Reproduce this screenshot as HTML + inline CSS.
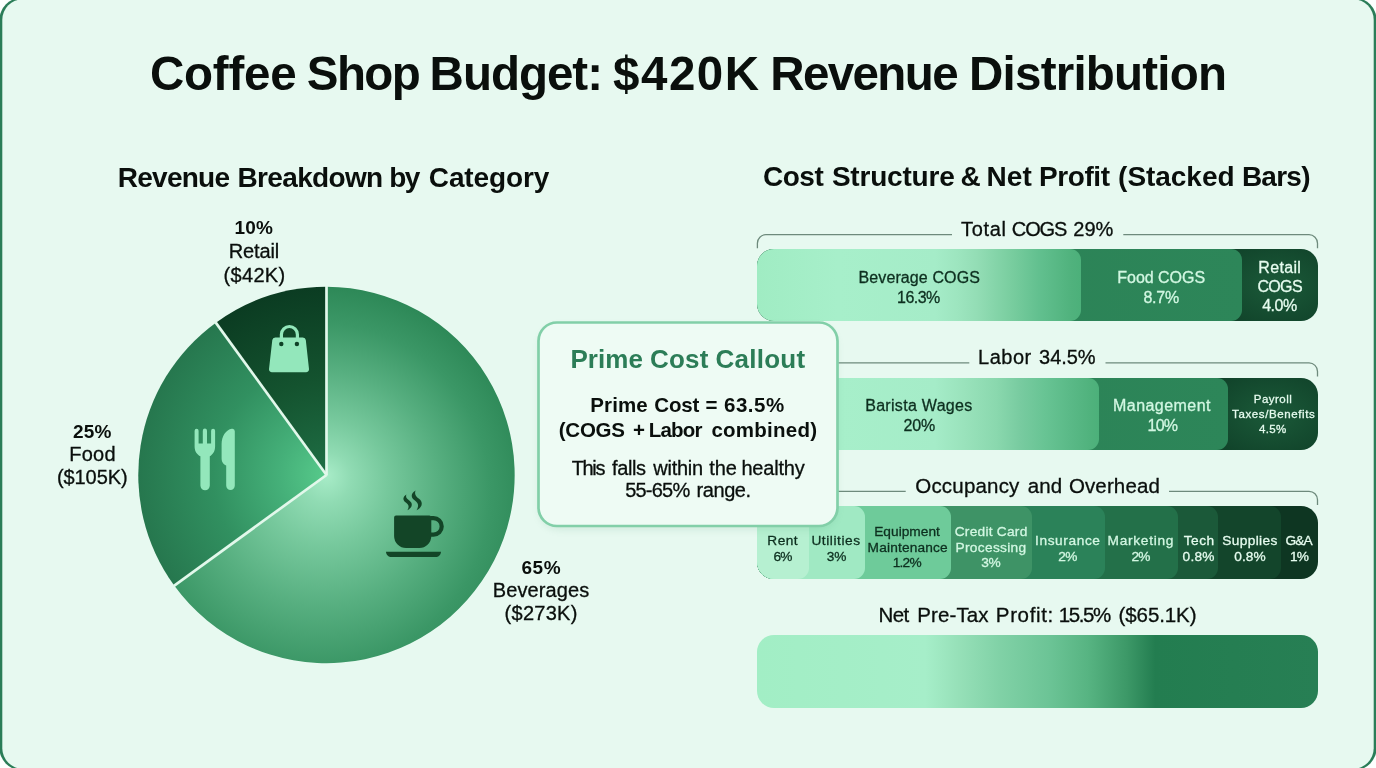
<!DOCTYPE html>
<html lang="en">
<head>
<meta charset="utf-8">
<title>Coffee Shop Budget: $420K Revenue Distribution</title>
<style>
*{box-sizing:border-box;margin:0;padding:0}
html,body{width:1376px;height:768px;overflow:hidden;background:#fdfffe}
body{font-family:"Liberation Sans",sans-serif;color:#0a0f0c;position:relative}
.t{position:absolute;white-space:nowrap;line-height:1}
.b{font-weight:bold}
.t:not(.b){-webkit-text-stroke:.3px currentColor}
.bar{position:absolute;left:757px;width:561px;height:73px;border-radius:17px;overflow:hidden}
.seg{position:absolute;top:0;height:100%;border-radius:0 11px 11px 0}
.d{color:#0d2f1f}
.m{color:#d2f7e2}
.w{color:#e6fcef}
</style>
</head>
<body>
<svg id="frame" style="position:absolute;left:0;top:0" width="1376" height="768" viewBox="0 0 1376 768"><rect x="-0.5" y="-2.2" width="1377" height="772.4" rx="22" fill="#2b7d58"/><rect x="2.3" y="-0.7" width="1371.4" height="769.4" rx="20.5" fill="#e7f9f0"/></svg>


<!-- PIE -->
<svg id="pie" style="position:absolute;left:0;top:0" width="700" height="768" viewBox="0 0 700 768">
  <defs>
    <radialGradient id="gBev" gradientUnits="userSpaceOnUse" cx="317" cy="499" r="214" fx="326.5" fy="475">
      <stop offset="0" stop-color="#a8ecc8"/><stop offset="0.12" stop-color="#90dbb3"/><stop offset="0.3" stop-color="#76c89c"/><stop offset="0.55" stop-color="#57af80"/><stop offset="0.8" stop-color="#3b9766"/><stop offset="1" stop-color="#2d8857"/>
    </radialGradient>
    <radialGradient id="gFood" gradientUnits="userSpaceOnUse" cx="326.5" cy="475.0" r="188.2">
      <stop offset="0" stop-color="#57ca8b"/><stop offset="0.25" stop-color="#45b079"/><stop offset="0.6" stop-color="#319060"/><stop offset="1" stop-color="#26774e"/>
    </radialGradient>
    <radialGradient id="gRet" gradientUnits="userSpaceOnUse" cx="326.5" cy="475.0" r="188.2">
      <stop offset="0" stop-color="#1f6f45"/><stop offset="0.5" stop-color="#14532f"/><stop offset="1" stop-color="#0b3c22"/>
    </radialGradient>
  </defs>
  <g id="slices">
    <path d="M326.5 475.0L326.5 286.8A188.2 188.2 0 1 1 174.2 585.6Z" fill="url(#gBev)"/>
    <path d="M326.5 475.0L174.2 585.6A188.2 188.2 0 0 1 215.9 322.7Z" fill="url(#gFood)"/>
    <path d="M326.5 475.0L215.9 322.7A188.2 188.2 0 0 1 326.5 286.8Z" fill="url(#gRet)"/>
    <g stroke="#e2f8eb" stroke-width="2.700" stroke-linecap="butt" fill="none">
      <line x1="326.5" y1="475.5" x2="326.5" y2="286.0"/>
      <line x1="326.5" y1="475.0" x2="173.6" y2="586.1"/>
      <line x1="326.5" y1="475.0" x2="215.4" y2="322.1"/>
    </g>
  </g>
  <!-- bag icon -->
  <g id="bag">
    <path d="M281.4 338V334.5a8 8 0 0 1 16 0V338" fill="none" stroke="#93e7bb" stroke-width="3.2"/>
    <path d="M275.3 337.5H302.8a3 3 0 0 1 3 2.6L309 368.9a3 3 0 0 1-3 3.4H272a3 3 0 0 1-3-3.4L272.3 340.1a3 3 0 0 1 3-2.6Z" fill="#93e7bb"/>
    <circle cx="281.3" cy="344" r="2.2" fill="#0e4126"/><circle cx="296.9" cy="344" r="2.2" fill="#0e4126"/>
  </g>
  <!-- fork & knife -->
  <g id="cutlery" fill="#93e7bb">
    <path d="M194.6 430.7a2 2 0 0 1 4 0V443.5h4.2V430.7a2 2 0 0 1 4.2 0V443.5h4.1V430.7a2 2 0 0 1 4 0V446.5c0 5-2.6 8.300-5.300 9.800V485.600a4.700 4.700 0 0 1-9.400 0V456.300c-3.200-1.500-5.800-4.800-5.800-9.800Z"/>
    <path d="M234.800 431.200V485.600a4.300 4.300 0 0 1-8.600 0V465.600c-3.200-1.800-4.600-3.600-4.600-7.600V444c0-8 4.400-14.300 10.200-15.300a2.600 2.600 0 0 1 3 2.500Z"/>
  </g>
  <!-- cup -->
  <g id="cup" fill="#134527">
    <path d="M396 515.600H429.300a2 2 0 0 1 2 2V536a12 12 0 0 1-12 12H406.100a12 12 0 0 1-12-12V517.600a2 2 0 0 1 1.900-2Z"/>
    <path d="M431 518.200h2.500a8.200 8.200 0 0 1 0 16.400H431" fill="none" stroke="#134527" stroke-width="4.200"/>
    <path d="M386 551.700H441a0 0 0 0 1 0 0c0 3-2.500 5.400-5.500 5.400H391.500c-3 0-5.500-2.400-5.500-5.400Z"/>
    <path d="M406.400 494.600C402.400 497.200 402.600 500.400 405.800 502.600C408.600 504.600 409.600 506.600 407.400 510.200C412.600 507.600 413 503.400 409.600 500.800C406.800 498.600 405.400 497.400 406.400 494.600ZM415.600 490.400C410.400 493.600 410.800 497.600 414.600 500.200C418 502.600 419.400 505.400 416.600 510.200C422.800 507 423.200 502 419 498.800C415.600 496.200 414.200 494 415.600 490.400Z"/>
  </g>
</svg>


<!-- pie labels -->

<!-- section labels + brackets -->




<svg id="brackets" style="position:absolute;left:0;top:0" width="1376" height="768" viewBox="0 0 1376 768" fill="none" stroke="#6e8a7c" stroke-width="1.300">
  <path d="M757.400 248.300V243.200a8.500 8.500 0 0 1 8.500-8.500H952"/>
  <path d="M1123.300 234.700H1309a8.500 8.500 0 0 1 8.500 8.500V248.300"/>
  <path d="M830 362.900H969.300"/>
  <path d="M1105.500 362.900H1309a8.500 8.500 0 0 1 8.500 8.500V376.500"/>
  <path d="M830 491.300H905.700"/>
  <path d="M1169 491.300H1309a8.500 8.500 0 0 1 8.500 8.500V504.900"/>
</svg>
<!-- BAR 1 -->
<div class="bar" id="bar1" style="top:249px;height:72px">
  <div class="seg" style="left:0;width:561px;background:radial-gradient(ellipse 90px 60px at 520px 36px,#1b5a39,#0e3d26)"></div>
  <div class="seg" style="left:0;width:485px;background:linear-gradient(90deg,#2a7f54,#2d8659)"></div>
  <div class="seg" style="left:0;width:324px;background:linear-gradient(90deg,#a0ecc3 0,#a7efca 25%,#a5ecc8 55%,#9de5bf 62%,#93ddb5 68%,#7acea0 78%,#62c08f 87%,#50b27d 97%,#4cb07a 100%)"></div>
</div>

<!-- BAR 2 -->
<div class="bar" id="bar2" style="top:378px;height:72px">
  <div class="seg" style="left:0;width:561px;background:radial-gradient(ellipse 90px 60px at 515px 36px,#1b5a39,#0e3d26)"></div>
  <div class="seg" style="left:0;width:470.500px;background:linear-gradient(90deg,#2a7f54,#2d8659)"></div>
  <div class="seg" style="left:0;width:341.500px;background:linear-gradient(90deg,#a0ecc3 0,#a7efca 24%,#a5ecc8 52%,#99e2bb 61%,#8ad8ae 70%,#78cba0 77%,#68c494 84%,#5bba88 91%,#50b27d 97.5%,#4cb07a 100%)"></div>
</div>

<!-- BAR 3 -->
<div class="bar" id="bar3" style="top:506px">
  <div class="seg" style="left:0;width:561px;background:#0e3622"></div>
  <div class="seg" style="left:0;width:524px;background:#13452b"></div>
  <div class="seg" style="left:0;width:461px;background:#1b5939"></div>
  <div class="seg" style="left:0;width:421px;background:#237049"></div>
  <div class="seg" style="left:0;width:347.500px;background:#2b8259"></div>
  <div class="seg" style="left:0;width:274.500px;background:#3e9366"></div>
  <div class="seg" style="left:0;width:194px;background:#6ecb9a"></div>
  <div class="seg" style="left:0;width:108px;background:#a0e9c3"></div>
  <div class="seg" style="left:0;width:51.500px;background:#b6f0d1"></div>
</div>

<!-- BAR 4 -->
<div class="bar" id="bar4" style="top:634.500px;background:linear-gradient(90deg,#a2eec5 0,#a6eec9 30%,#96e0b8 36%,#80d1a6 43.5%,#6cc496 52%,#57b482 59%,#3c9867 66%,#237d50 71%,#257e52 85%,#277f54 100%)"></div>
<svg id="callout" style="position:absolute;left:517px;top:301px;overflow:visible" width="342" height="246" viewBox="517 301 342 246"><defs><filter id="sh" x="-10%" y="-10%" width="120%" height="125%"><feGaussianBlur stdDeviation="4"/></filter></defs><rect x="540" y="327" width="296" height="202" rx="19" fill="#3c8c64" opacity=".16" filter="url(#sh)"/><rect x="538.500" y="322.500" width="299" height="203.500" rx="18.500" fill="#eefbf4" stroke="#82cfa8" stroke-width="2.700"/></svg>

<!-- BARTEXT START -->
<div class="t d" style="left:858.5px;top:270.1px;font-size:16px;letter-spacing:0.11px">Beverage COGS</div>
<div class="t d" style="left:897.0px;top:290.2px;font-size:16px;letter-spacing:-0.51px">16.3%</div>
<div class="t m" style="left:1117.3px;top:270.1px;font-size:16px;letter-spacing:-0.03px">Food COGS</div>
<div class="t m" style="left:1143.4px;top:290.2px;font-size:16px;letter-spacing:-0.25px">8.7%</div>
<div class="t w" style="left:1258.3px;top:260.3px;font-size:16px;letter-spacing:0.33px">Retail</div>
<div class="t w" style="left:1257.4px;top:279.3px;font-size:16px;letter-spacing:-0.65px">COGS</div>
<div class="t w" style="left:1262.2px;top:297.9px;font-size:16px;letter-spacing:-0.48px">4.0%</div>
<div class="t d" style="left:865.2px;top:397.9px;font-size:16px;letter-spacing:0.30px">Barista Wages</div>
<div class="t d" style="left:903.5px;top:418.4px;font-size:16px;letter-spacing:-0.20px">20%</div>
<div class="t m" style="left:1113.0px;top:397.9px;font-size:16px;letter-spacing:0.45px">Management</div>
<div class="t m" style="left:1147.6px;top:418.1px;font-size:16px;letter-spacing:-0.80px">10%</div>
<div class="t w" style="left:1253.8px;top:393.7px;font-size:11.5px;letter-spacing:0.48px">Payroll</div>
<div class="t w" style="left:1232.1px;top:409.4px;font-size:11.5px;letter-spacing:0.60px">Taxes/Benefits</div>
<div class="t w" style="left:1259.1px;top:423.6px;font-size:11.5px;letter-spacing:0.30px">4.5%</div>
<div class="t d" style="left:767.3px;top:534.1px;font-size:13.7px;letter-spacing:0.46px">Rent</div>
<div class="t d" style="left:773.4px;top:550.4px;font-size:13.7px;letter-spacing:-0.71px">6%</div>
<div class="t d" style="left:811.4px;top:534.1px;font-size:13.7px;letter-spacing:0.58px">Utilities</div>
<div class="t d" style="left:826.8px;top:550.4px;font-size:13.7px;letter-spacing:-0.21px">3%</div>
<div class="t d" style="left:874.2px;top:525.3px;font-size:13.7px;letter-spacing:0.03px">Equipment</div>
<div class="t d" style="left:867.6px;top:540.9px;font-size:13.7px;letter-spacing:0.17px">Maintenance</div>
<div class="t d" style="left:892.7px;top:556.4px;font-size:13.7px;letter-spacing:-0.78px">1.2%</div>
<div class="t m" style="left:954.7px;top:525.3px;font-size:13.7px;letter-spacing:0.26px">Credit Card</div>
<div class="t m" style="left:955.5px;top:540.9px;font-size:13.7px;letter-spacing:0.33px">Processing</div>
<div class="t m" style="left:981.3px;top:556.4px;font-size:13.7px;letter-spacing:-0.41px">3%</div>
<div class="t m" style="left:1035.1px;top:534.4px;font-size:13.7px;letter-spacing:0.59px">Insurance</div>
<div class="t m" style="left:1058.3px;top:549.7px;font-size:13.7px;letter-spacing:-0.61px">2%</div>
<div class="t m" style="left:1107.5px;top:534.4px;font-size:13.7px;letter-spacing:0.73px">Marketing</div>
<div class="t m" style="left:1131.4px;top:549.7px;font-size:13.7px;letter-spacing:-0.71px">2%</div>
<div class="t w" style="left:1183.7px;top:534.4px;font-size:13.7px;letter-spacing:0.53px">Tech</div>
<div class="t w" style="left:1182.6px;top:549.7px;font-size:13.7px;letter-spacing:0.19px">0.8%</div>
<div class="t w" style="left:1222.3px;top:534.4px;font-size:13.7px;letter-spacing:0.35px">Supplies</div>
<div class="t w" style="left:1234.3px;top:549.7px;font-size:13.7px;letter-spacing:0.02px">0.8%</div>
<div class="t w" style="left:1285.4px;top:534.4px;font-size:13.7px;letter-spacing:-0.80px">G&amp;A</div>
<div class="t w" style="left:1289.9px;top:549.7px;font-size:13.7px;letter-spacing:-0.80px">1%</div>
<div class="t b title" style="left:150.0px;top:49.8px;font-size:47.5px;letter-spacing:-0.23px">Coffee</div>
<div class="t b title" style="left:306.8px;top:49.8px;font-size:47.5px;letter-spacing:-1.60px">Shop</div>
<div class="t b title" style="left:429.6px;top:49.8px;font-size:47.5px;letter-spacing:-1.00px">Budget:</div>
<div class="t b title" style="left:613.1px;top:49.8px;font-size:47.5px;letter-spacing:1.50px">$420K</div>
<div class="t b title" style="left:770.2px;top:49.8px;font-size:47.5px;letter-spacing:-1.60px">Revenue</div>
<div class="t b title" style="left:969.1px;top:49.8px;font-size:47.5px;letter-spacing:-0.78px">Distribution</div>
<div class="t b h2L" style="left:117.8px;top:163.9px;font-size:28.0px;letter-spacing:-0.76px">Revenue</div>
<div class="t b h2L" style="left:237.5px;top:163.9px;font-size:28.0px;letter-spacing:-0.65px">Breakdown</div>
<div class="t b h2L" style="left:389.2px;top:163.9px;font-size:28.0px;letter-spacing:-1.60px">by</div>
<div class="t b h2L" style="left:428.8px;top:163.9px;font-size:28.0px;letter-spacing:-0.11px">Category</div>
<div class="t b h2R" style="left:762.9px;top:162.8px;font-size:28.0px;letter-spacing:-0.43px">Cost</div>
<div class="t b h2R" style="left:831.9px;top:162.8px;font-size:28.0px;letter-spacing:-0.20px">Structure</div>
<div class="t b h2R" style="left:960.5px;top:162.8px;font-size:28.0px;letter-spacing:0.00px">&amp;</div>
<div class="t b h2R" style="left:986.5px;top:162.8px;font-size:28.0px;letter-spacing:0.10px">Net</div>
<div class="t b h2R" style="left:1039.1px;top:162.8px;font-size:28.0px;letter-spacing:-0.44px">Profit</div>
<div class="t b h2R" style="left:1118.1px;top:162.8px;font-size:28.0px;letter-spacing:-0.04px">(Stacked</div>
<div class="t b h2R" style="left:1241.9px;top:162.8px;font-size:28.0px;letter-spacing:-0.74px">Bars)</div>
<div class="t lb1" style="left:961.1px;top:218.6px;font-size:20.0px;letter-spacing:0.67px">Total</div>
<div class="t lb1" style="left:1011.8px;top:218.6px;font-size:20.0px;letter-spacing:-1.09px">COGS</div>
<div class="t lb1" style="left:1073.3px;top:218.6px;font-size:20.0px;letter-spacing:-0.02px">29%</div>
<div class="t lb2" style="left:978.1px;top:347.4px;font-size:20.0px;letter-spacing:0.48px">Labor</div>
<div class="t lb2" style="left:1039.1px;top:347.4px;font-size:20.0px;letter-spacing:-0.06px">34.5%</div>
<div class="t lb3" style="left:915.3px;top:476.3px;font-size:20.5px;letter-spacing:0.19px">Occupancy</div>
<div class="t lb3" style="left:1027.8px;top:476.3px;font-size:20.5px;letter-spacing:0.10px">and</div>
<div class="t lb3" style="left:1068.9px;top:476.3px;font-size:20.5px;letter-spacing:0.14px">Overhead</div>
<div class="t lb4" style="left:878.4px;top:605.1px;font-size:20.5px;letter-spacing:-0.55px">Net</div>
<div class="t lb4" style="left:917.2px;top:605.1px;font-size:20.5px;letter-spacing:0.12px">Pre-Tax</div>
<div class="t lb4" style="left:995.8px;top:605.1px;font-size:20.5px;letter-spacing:0.66px">Profit:</div>
<div class="t lb4" style="left:1058.8px;top:605.1px;font-size:20.5px;letter-spacing:-1.45px">15.5%</div>
<div class="t lb4" style="left:1118.6px;top:605.1px;font-size:20.5px;letter-spacing:-0.10px">($65.1K)</div>
<div class="t b co1" style="left:570.4px;top:346.1px;font-size:26.0px;letter-spacing:0.10px;color:#2c7d57">Prime</div>
<div class="t b co1" style="left:650.1px;top:346.1px;font-size:26.0px;letter-spacing:0.16px;color:#2c7d57">Cost</div>
<div class="t b co1" style="left:715.5px;top:346.1px;font-size:26.0px;letter-spacing:0.24px;color:#2c7d57">Callout</div>
<div class="t b co2" style="left:590.3px;top:394.5px;font-size:20.5px;letter-spacing:0.11px">Prime</div>
<div class="t b co2" style="left:654.2px;top:394.5px;font-size:20.5px;letter-spacing:-0.11px">Cost</div>
<div class="t b co2" style="left:705.5px;top:394.5px;font-size:20.5px;letter-spacing:0.00px">=</div>
<div class="t b co2" style="left:724.0px;top:394.5px;font-size:20.5px;letter-spacing:0.53px">63.5%</div>
<div class="t b co3" style="left:558.8px;top:420.4px;font-size:20.5px;letter-spacing:-0.26px">(COGS</div>
<div class="t b co3" style="left:633.0px;top:420.4px;font-size:20.5px;letter-spacing:0.00px">+</div>
<div class="t b co3" style="left:648.7px;top:420.4px;font-size:20.5px;letter-spacing:-0.77px">Labor</div>
<div class="t b co3" style="left:711.4px;top:420.4px;font-size:20.5px;letter-spacing:0.25px">combined)</div>
<div class="t co4" style="left:571.7px;top:457.9px;font-size:20.0px;letter-spacing:-1.36px">This</div>
<div class="t co4" style="left:612.0px;top:457.9px;font-size:20.0px;letter-spacing:-0.39px">falls</div>
<div class="t co4" style="left:653.2px;top:457.9px;font-size:20.0px;letter-spacing:-0.22px">within</div>
<div class="t co4" style="left:709.3px;top:457.9px;font-size:20.0px;letter-spacing:-0.14px">the</div>
<div class="t co4" style="left:741.4px;top:457.9px;font-size:20.0px;letter-spacing:-0.20px">healthy</div>
<div class="t co5" style="left:625.2px;top:480.3px;font-size:20.0px;letter-spacing:-0.79px">55-65%</div>
<div class="t co5" style="left:696.6px;top:480.3px;font-size:20.0px;letter-spacing:-0.45px">range.</div>
<div class="t b p1a" style="left:234.5px;top:218.3px;font-size:19.0px;letter-spacing:0.18px">10%</div>
<div class="t p1b" style="left:228.8px;top:240.5px;font-size:20.0px;letter-spacing:-0.14px">Retail</div>
<div class="t p1c" style="left:223.6px;top:264.7px;font-size:20.0px;letter-spacing:0.31px">($42K)</div>
<div class="t b p2a" style="left:73.0px;top:422.4px;font-size:19.0px;letter-spacing:0.23px">25%</div>
<div class="t p2b" style="left:69.3px;top:444.1px;font-size:20.0px;letter-spacing:0.21px">Food</div>
<div class="t p2c" style="left:57.0px;top:466.5px;font-size:20.0px;letter-spacing:-0.10px">($105K)</div>
<div class="t b p3a" style="left:521.5px;top:557.6px;font-size:19.0px;letter-spacing:0.53px">65%</div>
<div class="t p3b" style="left:492.8px;top:580.0px;font-size:20.0px;letter-spacing:0.09px">Beverages</div>
<div class="t p3c" style="left:504.6px;top:603.3px;font-size:20.0px;letter-spacing:0.27px">($273K)</div>
<!-- TEXT END -->
</body>
</html>
